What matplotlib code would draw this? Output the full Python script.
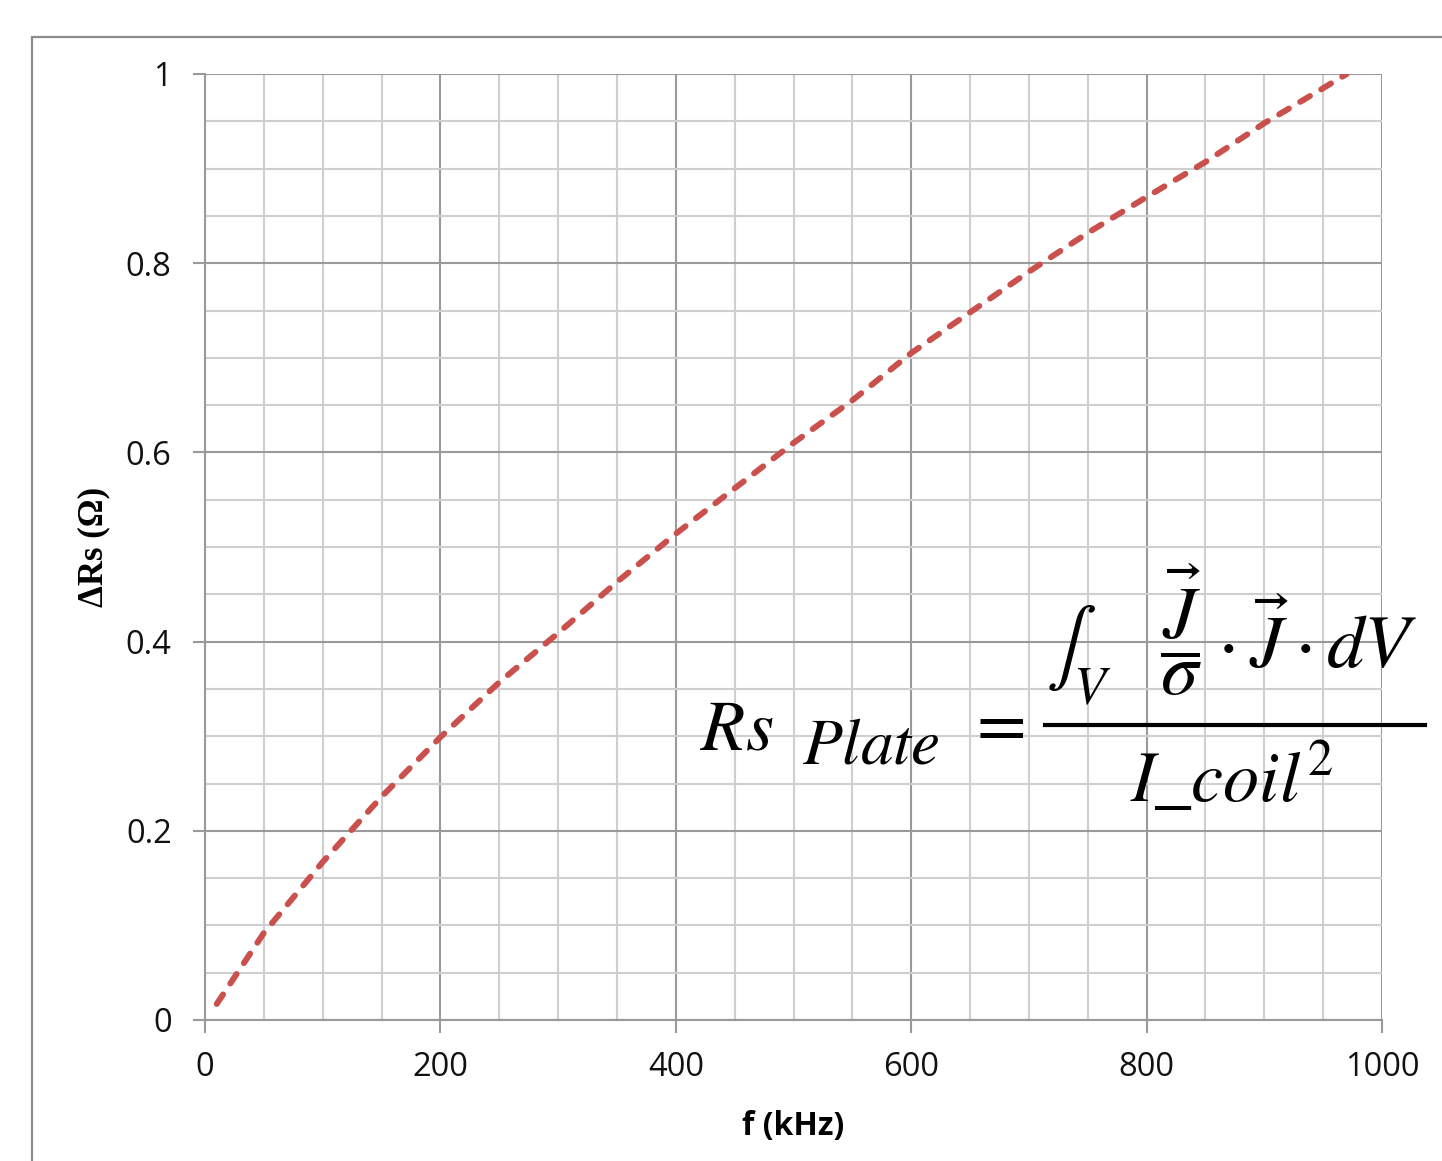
import matplotlib
matplotlib.use("Agg")
import matplotlib.pyplot as plt
from matplotlib.patches import Rectangle
from matplotlib.lines import Line2D
from matplotlib.ticker import MultipleLocator

plt.rcParams['mathtext.fontset'] = 'stix'

# frequency (kHz) and added plate resistance (ohm)
freq_khz = [10, 50, 100, 150, 200, 250, 300, 350, 400, 450, 500,
            550, 600, 650, 700, 750, 800, 850, 900, 950, 970]
delta_rs = [0.017, 0.092, 0.167, 0.236, 0.299, 0.357, 0.409, 0.463, 0.514, 0.562, 0.610,
            0.655, 0.705, 0.748, 0.791, 0.832, 0.870, 0.907, 0.948, 0.985, 1.0]

x_ticks = [0, 200, 400, 600, 800, 1000]
y_ticks = [0, 0.2, 0.4, 0.6, 0.8, 1]
y_ticklabels = ['0', '0.2', '0.4', '0.6', '0.8', '1']

W, H = 1442, 1161
fig = plt.figure(figsize=(W / 100, H / 100), dpi=100)

# chart-area frame
fig.add_artist(Rectangle((32 / W, -0.2), 1.2, 1 - 37 / H + 0.2, transform=fig.transFigure,
                         fill=False, edgecolor='#8c8c8c', linewidth=1.6))

ax = fig.add_axes([205 / W, 141 / H, 1177 / W, 946 / H])
ax.set_xlim(0, 1000)
ax.set_ylim(0, 1)

ax.xaxis.set_major_locator(MultipleLocator(200))
ax.xaxis.set_minor_locator(MultipleLocator(50))
ax.yaxis.set_major_locator(MultipleLocator(0.2))
ax.yaxis.set_minor_locator(MultipleLocator(0.05))
ax.grid(which='major', color='#9a9a9a', linewidth=1.5)
ax.grid(which='minor', color='#cfcfcf', linewidth=1.5)
ax.set_axisbelow(True)

for side in ['top', 'right']:
    ax.spines[side].set_visible(False)
for side in ['left', 'bottom']:
    ax.spines[side].set_color('#9a9a9a')
    ax.spines[side].set_linewidth(1.5)

ax.set_xticks(x_ticks)
ax.set_xticklabels([str(t) for t in x_ticks])
ax.set_yticks(y_ticks)
ax.set_yticklabels(y_ticklabels)
ax.tick_params(which='major', length=9, width=1.5, color='#9a9a9a', labelsize=23.5,
               labelcolor='#111111')
ax.tick_params(axis='y', pad=15)
ax.tick_params(axis='x', pad=13)
ax.tick_params(which='minor', length=0)
for lab in ax.get_xticklabels() + ax.get_yticklabels():
    lab.set_family('Open Sans')

ax.plot(freq_khz, delta_rs, color='#c9504d', linewidth=4.3,
        linestyle=(0, (1.9, 2.2)), dash_capstyle='round')

ax.set_xlabel('f (kHz)', fontsize=23, fontweight='bold', family='Open Sans', labelpad=19)
ax.set_ylabel('ΔRs (Ω)', fontsize=25, fontweight='bold', family='Liberation Serif', labelpad=11)

# resistance formula
fs = 52
fig.text(700 / W, 1 - 750 / H, r'$Rs$', fontsize=fs, ha='left', va='baseline')
fig.text(802 / W, 1 - 764 / H, r'$Plate$', fontsize=47, ha='left', va='baseline')
fig.text(995 / W, 1 - 726 / H, r'$=$', fontsize=fs, ha='center', va='center')
fig.add_artist(Line2D([1045 / W, 1425 / W], [1 - 725 / H, 1 - 725 / H],
                      transform=fig.transFigure, color='black', linewidth=3))
fig.text(1232 / W, 1 - 708 / H, r'$\int_V\quad\dfrac{\vec{J}}{\sigma}\cdot\vec{J}\cdot dV$',
         fontsize=54, ha='center', va='bottom')
fig.text(1232 / W, 1 - 740 / H, r'$I\_coil^2$', fontsize=fs, ha='center', va='top')

fig.savefig('out.png', dpi=100)
